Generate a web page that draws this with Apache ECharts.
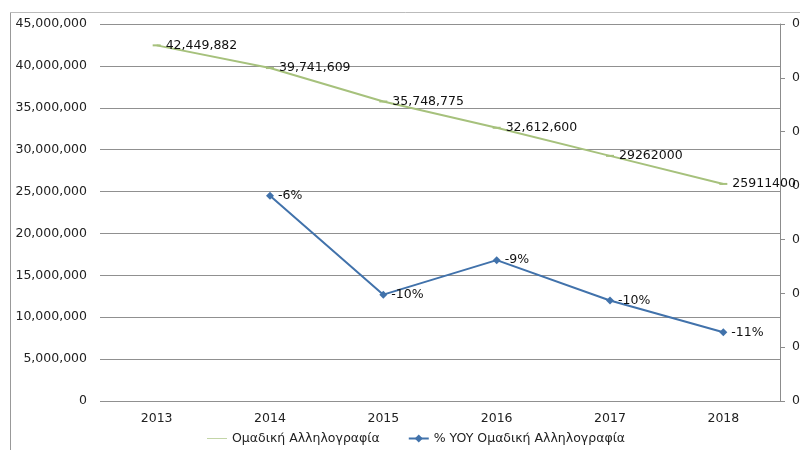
<!DOCTYPE html>
<html>
<head>
<meta charset="utf-8">
<script src="https://cdn.jsdelivr.net/npm/echarts@6/dist/echarts.min.js"></script>
<style>
  html, body { margin: 0; padding: 0; background: #fff; }
  #chart { width: 800px; height: 450px; }
</style>
</head>
<body>
<div id="chart"></div>
<script>
// data
var years = ['2013', '2014', '2015', '2016', '2017', '2018']
var mailVolume = [42449882, 39741609, 35748775, 32612600, 29262000, 25911400]
var mailLabels = ['42,449,882', '39,741,609', '35,748,775', '32,612,600', '29262000', '25911400']
var yoyChange = [null, -0.0638, -0.1005, -0.0877, -0.1027, -0.1145]
var yoyLabels = ['', '-6%', '-10%', '-9%', '-10%', '-11%']

var font = 'DejaVu Sans'
var chart = echarts.init(document.getElementById('chart'))

chart.setOption({
  animation: false,
  backgroundColor: '#fff',
  textStyle: { fontFamily: font },
  graphic: [
    // outer frame of the chart area
    { type: 'line', shape: { x1: 10.5, y1: 12.5, x2: 800, y2: 12.5 }, style: { stroke: '#bbb', lineWidth: 1 } },
    { type: 'line', shape: { x1: 10.5, y1: 12.5, x2: 10.5, y2: 450 }, style: { stroke: '#999', lineWidth: 1 } }
  ],
  grid: {
    left: 100,
    right: 20,
    top: 24,
    bottom: 49,
    containLabel: false,
    outerBoundsMode: 'none'
  },
  legend: {
    bottom: 0,
    left: 202,
    itemGap: 28,
    itemWidth: 20,
    itemHeight: 10,
    textStyle: { fontFamily: font, fontSize: 12.5, color: '#222' },
    data: [
      { name: 'Ομαδική Αλληλογραφία', icon: 'path://M0,4.5L30,4.5L30,5.5L0,5.5Z' },
      { name: '% YOY Ομαδική Αλληλογραφία' }
    ]
  },
  xAxis: {
    type: 'category',
    data: years,
    boundaryGap: true,
    axisLine: { show: false },
    axisTick: { show: false },
    axisLabel: { color: '#222', fontSize: 12.5, fontFamily: font, margin: 11 }
  },
  yAxis: [
    {
      type: 'value',
      min: 0,
      max: 45000000,
      interval: 5000000,
      axisLine: { show: false },
      axisTick: { show: false },
      axisLabel: {
        color: '#222',
        fontSize: 12.5,
        fontFamily: font,
        margin: 13,
        formatter: function (v) { return v.toLocaleString('en-US') }
      },
      splitLine: { lineStyle: { color: '#909090', width: 1 } }
    },
    {
      type: 'value',
      min: -0.14,
      max: 0,
      interval: 0.02,
      position: 'right',
      axisLine: { show: true, lineStyle: { color: '#8c8c8c' } },
      axisTick: { show: true, length: 5, lineStyle: { color: '#8c8c8c' } },
      axisLabel: {
        color: '#222',
        fontSize: 12.5,
        fontFamily: font,
        margin: 12,
        formatter: function (v) { return Math.abs(v).toFixed(2) }
      },
      splitLine: { show: false }
    }
  ],
  series: [
    {
      name: 'Ομαδική Αλληλογραφία',
      type: 'line',
      yAxisIndex: 0,
      data: mailVolume,
      symbol: 'rect',
      symbolSize: [8, 2],
      itemStyle: { color: '#a6c17c' },
      lineStyle: { color: '#a6c17c', width: 2 },
      label: {
        show: true,
        position: 'right',
        distance: 5,
        color: '#111',
        fontSize: 12.5,
        fontFamily: font,
        formatter: function (p) { return mailLabels[p.dataIndex] }
      }
    },
    {
      name: '% YOY Ομαδική Αλληλογραφία',
      type: 'line',
      yAxisIndex: 1,
      data: yoyChange,
      symbol: 'diamond',
      symbolSize: 8,
      itemStyle: { color: '#4172ab' },
      lineStyle: { color: '#4172ab', width: 2 },
      label: {
        show: true,
        position: 'right',
        distance: 4,
        color: '#111',
        fontSize: 12.5,
        fontFamily: font,
        formatter: function (p) { return yoyLabels[p.dataIndex] }
      }
    }
  ]
})
</script>
</body>
</html>
